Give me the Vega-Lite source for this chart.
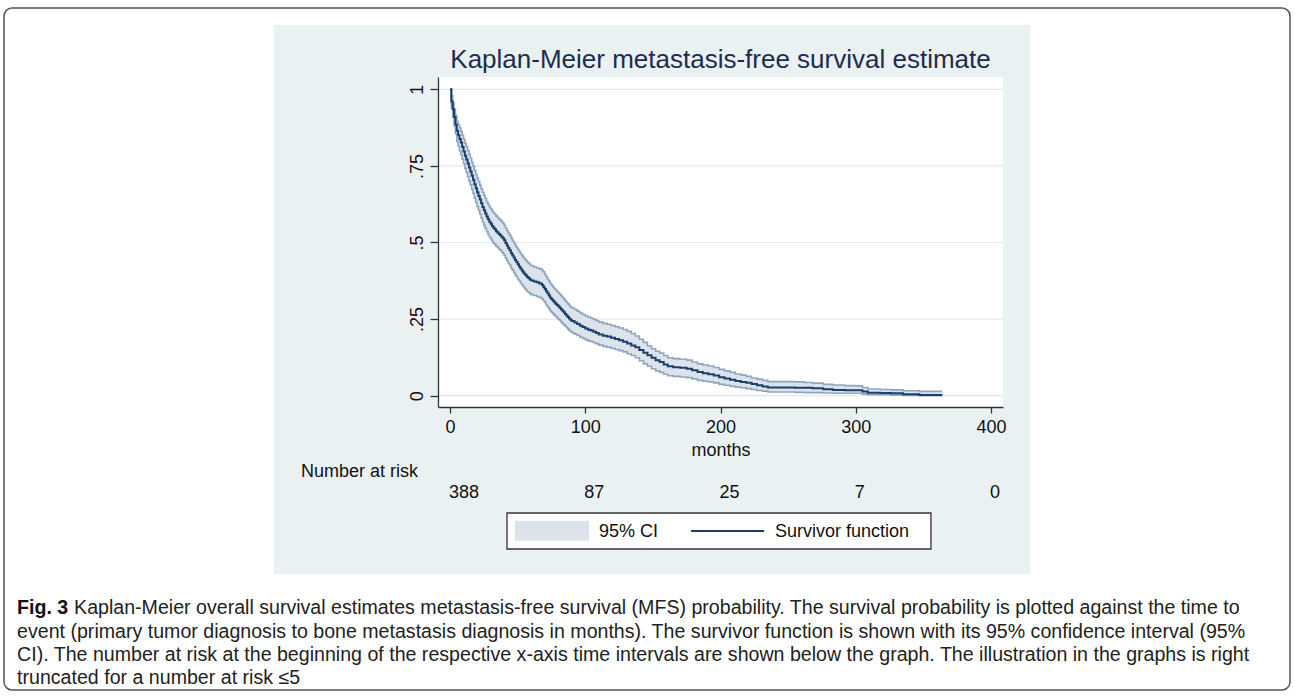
{
  "$schema": "https://vega.github.io/schema/vega-lite/v6.json",
  "width": 565,
  "height": 330,
  "autosize": {"type": "none"},
  "padding": {"left": 438, "top": 77, "right": 292, "bottom": 290},
  "background": "white",
  "config": {"view": {"stroke": null, "fill": "white"}, "text": {"font": "Liberation Sans"}},
  "datasets": {
    "km": [
      {"t":0,"s":1,"lo":1,"hi":1},{"t":1,"s":0.96,"lo":0.94,"hi":0.98},{"t":2,"s":0.935,"lo":0.91,"hi":0.955},{"t":3,"s":0.91,"lo":0.88,"hi":0.935},{"t":4,"s":0.885,"lo":0.855,"hi":0.915},{"t":5,"s":0.865,"lo":0.83,"hi":0.895},{"t":6,"s":0.85,"lo":0.815,"hi":0.885},{"t":7,"s":0.838,"lo":0.8,"hi":0.874},{"t":8,"s":0.826,"lo":0.787,"hi":0.862},{"t":9,"s":0.812,"lo":0.772,"hi":0.85},{"t":10,"s":0.797,"lo":0.757,"hi":0.837},{"t":11,"s":0.783,"lo":0.742,"hi":0.823},{"t":12,"s":0.771,"lo":0.729,"hi":0.812},{"t":13,"s":0.758,"lo":0.715,"hi":0.8},{"t":14,"s":0.745,"lo":0.701,"hi":0.788},{"t":15,"s":0.732,"lo":0.688,"hi":0.776},{"t":16,"s":0.718,"lo":0.673,"hi":0.762},{"t":17,"s":0.705,"lo":0.66,"hi":0.75},{"t":18,"s":0.69,"lo":0.644,"hi":0.735},{"t":19,"s":0.677,"lo":0.631,"hi":0.722},{"t":20,"s":0.664,"lo":0.617,"hi":0.71},{"t":21,"s":0.652,"lo":0.605,"hi":0.699},{"t":22,"s":0.64,"lo":0.592,"hi":0.687},{"t":23,"s":0.628,"lo":0.58,"hi":0.675},{"t":24,"s":0.616,"lo":0.567,"hi":0.664},{"t":25,"s":0.605,"lo":0.556,"hi":0.654},{"t":26,"s":0.595,"lo":0.546,"hi":0.644},{"t":27,"s":0.585,"lo":0.536,"hi":0.634},{"t":28,"s":0.576,"lo":0.527,"hi":0.625},{"t":29,"s":0.568,"lo":0.519,"hi":0.617},{"t":30,"s":0.561,"lo":0.512,"hi":0.61},{"t":31,"s":0.554,"lo":0.505,"hi":0.603},{"t":32,"s":0.548,"lo":0.498,"hi":0.597},{"t":33,"s":0.543,"lo":0.494,"hi":0.592},{"t":34,"s":0.537,"lo":0.488,"hi":0.587},{"t":35,"s":0.533,"lo":0.484,"hi":0.582},{"t":36,"s":0.528,"lo":0.479,"hi":0.577},{"t":37,"s":0.524,"lo":0.475,"hi":0.573},{"t":38,"s":0.519,"lo":0.47,"hi":0.568},{"t":39,"s":0.514,"lo":0.465,"hi":0.563},{"t":40,"s":0.507,"lo":0.458,"hi":0.556},{"t":41,"s":0.498,"lo":0.449,"hi":0.547},{"t":42,"s":0.49,"lo":0.441,"hi":0.539},{"t":43,"s":0.482,"lo":0.433,"hi":0.531},{"t":44,"s":0.475,"lo":0.426,"hi":0.524},{"t":45,"s":0.466,"lo":0.417,"hi":0.515},{"t":46,"s":0.458,"lo":0.41,"hi":0.507},{"t":47,"s":0.451,"lo":0.403,"hi":0.5},{"t":48,"s":0.443,"lo":0.395,"hi":0.492},{"t":49,"s":0.436,"lo":0.388,"hi":0.485},{"t":50,"s":0.429,"lo":0.381,"hi":0.478},{"t":51,"s":0.422,"lo":0.375,"hi":0.471},{"t":52,"s":0.415,"lo":0.368,"hi":0.464},{"t":53,"s":0.409,"lo":0.362,"hi":0.458},{"t":54,"s":0.403,"lo":0.356,"hi":0.452},{"t":55,"s":0.397,"lo":0.35,"hi":0.446},{"t":56,"s":0.392,"lo":0.345,"hi":0.441},{"t":57,"s":0.387,"lo":0.34,"hi":0.436},{"t":58,"s":0.383,"lo":0.337,"hi":0.432},{"t":59,"s":0.379,"lo":0.333,"hi":0.428},{"t":60,"s":0.376,"lo":0.33,"hi":0.424},{"t":62,"s":0.373,"lo":0.327,"hi":0.42},{"t":64,"s":0.37,"lo":0.324,"hi":0.417},{"t":66,"s":0.366,"lo":0.32,"hi":0.414},{"t":68,"s":0.361,"lo":0.316,"hi":0.409},{"t":69,"s":0.355,"lo":0.31,"hi":0.404},{"t":70,"s":0.348,"lo":0.304,"hi":0.396},{"t":71,"s":0.341,"lo":0.297,"hi":0.389},{"t":72,"s":0.334,"lo":0.29,"hi":0.381},{"t":73,"s":0.327,"lo":0.284,"hi":0.374},{"t":74,"s":0.32,"lo":0.277,"hi":0.366},{"t":75,"s":0.315,"lo":0.272,"hi":0.361},{"t":76,"s":0.31,"lo":0.268,"hi":0.355},{"t":77,"s":0.305,"lo":0.263,"hi":0.35},{"t":78,"s":0.3,"lo":0.259,"hi":0.345},{"t":79,"s":0.296,"lo":0.254,"hi":0.34},{"t":80,"s":0.292,"lo":0.25,"hi":0.336},{"t":81,"s":0.287,"lo":0.246,"hi":0.331},{"t":82,"s":0.282,"lo":0.241,"hi":0.326},{"t":83,"s":0.277,"lo":0.236,"hi":0.321},{"t":84,"s":0.272,"lo":0.232,"hi":0.316},{"t":85,"s":0.267,"lo":0.227,"hi":0.31},{"t":86,"s":0.262,"lo":0.223,"hi":0.305},{"t":87,"s":0.257,"lo":0.218,"hi":0.3},{"t":88,"s":0.252,"lo":0.213,"hi":0.295},{"t":89,"s":0.248,"lo":0.21,"hi":0.29},{"t":90,"s":0.244,"lo":0.206,"hi":0.286},{"t":92,"s":0.239,"lo":0.201,"hi":0.281},{"t":94,"s":0.234,"lo":0.197,"hi":0.276},{"t":96,"s":0.228,"lo":0.191,"hi":0.27},{"t":98,"s":0.224,"lo":0.187,"hi":0.265},{"t":100,"s":0.219,"lo":0.183,"hi":0.26},{"t":102,"s":0.215,"lo":0.179,"hi":0.256},{"t":104,"s":0.213,"lo":0.177,"hi":0.253},{"t":106,"s":0.209,"lo":0.173,"hi":0.249},{"t":108,"s":0.205,"lo":0.17,"hi":0.245},{"t":110,"s":0.2,"lo":0.165,"hi":0.24},{"t":113,"s":0.196,"lo":0.161,"hi":0.236},{"t":116,"s":0.193,"lo":0.158,"hi":0.233},{"t":119,"s":0.189,"lo":0.155,"hi":0.229},{"t":122,"s":0.185,"lo":0.151,"hi":0.225},{"t":125,"s":0.181,"lo":0.147,"hi":0.221},{"t":128,"s":0.176,"lo":0.143,"hi":0.216},{"t":131,"s":0.17,"lo":0.137,"hi":0.21},{"t":134,"s":0.164,"lo":0.131,"hi":0.203},{"t":137,"s":0.158,"lo":0.124,"hi":0.195},{"t":140,"s":0.149,"lo":0.114,"hi":0.184},{"t":143,"s":0.14,"lo":0.104,"hi":0.174},{"t":146,"s":0.132,"lo":0.096,"hi":0.163},{"t":149,"s":0.124,"lo":0.088,"hi":0.153},{"t":152,"s":0.116,"lo":0.081,"hi":0.145},{"t":155,"s":0.11,"lo":0.076,"hi":0.139},{"t":158,"s":0.102,"lo":0.07,"hi":0.131},{"t":161,"s":0.096,"lo":0.065,"hi":0.124},{"t":165,"s":0.093,"lo":0.063,"hi":0.121},{"t":170,"s":0.091,"lo":0.061,"hi":0.119},{"t":175,"s":0.088,"lo":0.059,"hi":0.116},{"t":179,"s":0.083,"lo":0.055,"hi":0.11},{"t":183,"s":0.077,"lo":0.05,"hi":0.104},{"t":187,"s":0.073,"lo":0.047,"hi":0.1},{"t":191,"s":0.07,"lo":0.045,"hi":0.097},{"t":195,"s":0.066,"lo":0.042,"hi":0.092},{"t":199,"s":0.06,"lo":0.037,"hi":0.086},{"t":203,"s":0.056,"lo":0.034,"hi":0.081},{"t":207,"s":0.052,"lo":0.031,"hi":0.076},{"t":211,"s":0.048,"lo":0.028,"hi":0.071},{"t":215,"s":0.045,"lo":0.026,"hi":0.067},{"t":219,"s":0.042,"lo":0.023,"hi":0.063},{"t":223,"s":0.038,"lo":0.02,"hi":0.058},{"t":227,"s":0.034,"lo":0.017,"hi":0.054},{"t":231,"s":0.03,"lo":0.015,"hi":0.05},{"t":235,"s":0.027,"lo":0.012,"hi":0.046},{"t":255,"s":0.026,"lo":0.011,"hi":0.045},{"t":262,"s":0.026,"lo":0.01,"hi":0.043},{"t":268,"s":0.024,"lo":0.01,"hi":0.041},{"t":276,"s":0.021,"lo":0.009,"hi":0.037},{"t":283,"s":0.019,"lo":0.008,"hi":0.035},{"t":292,"s":0.018,"lo":0.008,"hi":0.033},{"t":300,"s":0.018,"lo":0.008,"hi":0.032},{"t":305,"s":0.014,"lo":0.005,"hi":0.027},{"t":309,"s":0.01,"lo":0.003,"hi":0.022},{"t":318,"s":0.009,"lo":0.003,"hi":0.02},{"t":326,"s":0.008,"lo":0.002,"hi":0.019},{"t":335,"s":0.005,"lo":0.001,"hi":0.016},{"t":347,"s":0.002,"lo":0,"hi":0.014},{"t":364,"s":0.002,"lo":0,"hi":0.014}
    ],
    "risk": [{"t":0,"n":388},{"t":100,"n":87},{"t":200,"n":25},{"t":300,"n":7},{"t":400,"n":0}],
    "grid": [{"g":0},{"g":0.25},{"g":0.5},{"g":0.75},{"g":1}],
    "one": [{}]
  },
  "layer": [
    {
      "data": {"name": "one"},
      "mark": {"type": "rect", "color": "#eaf1f3"},
      "encoding": {
        "x": {"datum": -130.13, "type": "quantitative", "scale": {"domain": [-8.873, 408.87], "nice": false, "zero": false},
              "axis": {"values": [0,100,200,300,400], "format": "d", "title": "months", "grid": false, "zindex": 1,
                       "domainColor": "#333", "domainWidth": 1.3, "tickColor": "#333", "tickWidth": 1.3, "tickSize": 6,
                       "labelFont": "Liberation Sans", "labelFontSize": 18, "labelColor": "#111", "labelPadding": 5, "labelFlush": false, "labelOverlap": false,
                       "titleFont": "Liberation Sans", "titleFontSize": 18, "titleFontWeight": "normal", "titleColor": "#111", "titlePadding": 5}},
        "x2": {"datum": 428.84},
        "y": {"datum": -0.5819, "type": "quantitative", "scale": {"domain": [-0.03688, 1.04014], "nice": false, "zero": false},
              "axis": {"values": [0,0.25,0.5,0.75,1], "title": null, "grid": false, "zindex": 1,
                       "labelExpr": "datum.value == 0 ? '0' : datum.value == 1 ? '1' : substring(toString(datum.value), 1)",
                       "labelAngle": -90, "labelAlign": "center", "labelBaseline": "bottom",
                       "domainColor": "#333", "domainWidth": 1.3, "tickColor": "#333", "tickWidth": 1.3, "tickSize": 8,
                       "labelFont": "Liberation Sans", "labelFontSize": 18, "labelColor": "#111", "labelPadding": 4}},
        "y2": {"datum": 1.2099}
      }
    },
    {
      "data": {"name": "one"},
      "mark": {"type": "rect", "color": "white"},
      "encoding": {
        "x": {"datum": -8.873, "type": "quantitative"}, "x2": {"datum": 408.87},
        "y": {"datum": -0.03688, "type": "quantitative"}, "y2": {"datum": 1.04014}
      }
    },
    {
      "data": {"name": "grid"},
      "mark": {"type": "rule", "color": "#dfe9ee", "strokeWidth": 1.2},
      "encoding": {
        "y": {"field": "g", "type": "quantitative"},
        "x": {"datum": -8.873, "type": "quantitative"}, "x2": {"datum": 408.87}
      }
    },
    {
      "data": {"name": "km"},
      "mark": {"type": "area", "interpolate": "step-after", "color": "#dde3eb"},
      "encoding": {
        "x": {"field": "t", "type": "quantitative"},
        "y": {"field": "lo", "type": "quantitative"},
        "y2": {"field": "hi"}
      }
    },
    {
      "data": {"name": "km"},
      "mark": {"type": "line", "interpolate": "step-after", "color": "#8ea6bf", "strokeWidth": 1.6},
      "encoding": {
        "x": {"field": "t", "type": "quantitative"},
        "y": {"field": "hi", "type": "quantitative"}
      }
    },
    {
      "data": {"name": "km"},
      "mark": {"type": "line", "interpolate": "step-after", "color": "#8ea6bf", "strokeWidth": 1.6},
      "encoding": {
        "x": {"field": "t", "type": "quantitative"},
        "y": {"field": "lo", "type": "quantitative"}
      }
    },
    {
      "data": {"name": "km"},
      "mark": {"type": "line", "interpolate": "step-after", "color": "#1b3f6c", "strokeWidth": 2},
      "encoding": {
        "x": {"field": "t", "type": "quantitative"},
        "y": {"field": "s", "type": "quantitative"}
      }
    },
    {
      "data": {"name": "risk"},
      "mark": {"type": "text", "align": "left", "baseline": "middle", "fontSize": 18, "color": "#111", "dx": -1},
      "encoding": {
        "x": {"field": "t", "type": "quantitative"},
        "y": {"datum": -0.3176, "type": "quantitative"},
        "text": {"field": "n"}
      }
    },
    {
      "data": {"name": "one"},
      "mark": {"type": "text", "align": "left", "baseline": "middle", "fontSize": 18, "color": "#111", "text": "Number at risk"},
      "encoding": {
        "x": {"datum": -110.2, "type": "quantitative"},
        "y": {"datum": -0.249, "type": "quantitative"}
      }
    },
    {
      "data": {"name": "one"},
      "mark": {"type": "rect", "fill": "white", "stroke": "#333", "strokeWidth": 1.3},
      "encoding": {
        "x": {"datum": 42.14, "type": "quantitative"}, "x2": {"datum": 355.6},
        "y": {"datum": -0.3828, "type": "quantitative"}, "y2": {"datum": -0.5003}
      }
    },
    {
      "data": {"name": "one"},
      "mark": {"type": "rect", "fill": "#dde3eb"},
      "encoding": {
        "x": {"datum": 48.06, "type": "quantitative"}, "x2": {"datum": 102.77},
        "y": {"datum": -0.408, "type": "quantitative"}, "y2": {"datum": -0.4733}
      }
    },
    {
      "data": {"name": "one"},
      "mark": {"type": "rule", "color": "#1b3f6c", "strokeWidth": 2},
      "encoding": {
        "x": {"datum": 178.2, "type": "quantitative"}, "x2": {"datum": 232.2},
        "y": {"datum": -0.4416, "type": "quantitative"}
      }
    },
    {
      "data": {"name": "one"},
      "mark": {"type": "text", "align": "left", "baseline": "middle", "fontSize": 18, "color": "#111", "text": "95% CI"},
      "encoding": {
        "x": {"datum": 110.2, "type": "quantitative"},
        "y": {"datum": -0.4449, "type": "quantitative"}
      }
    },
    {
      "data": {"name": "one"},
      "mark": {"type": "text", "align": "left", "baseline": "middle", "fontSize": 18, "color": "#111", "text": "Survivor function"},
      "encoding": {
        "x": {"datum": 240.3, "type": "quantitative"},
        "y": {"datum": -0.4449, "type": "quantitative"}
      }
    },
    {
      "data": {"name": "one"},
      "mark": {"type": "text", "align": "center", "baseline": "alphabetic", "fontSize": 26, "color": "#1c2d4f", "text": "Kaplan-Meier metastasis-free survival estimate"},
      "encoding": {
        "x": {"datum": 200, "type": "quantitative"},
        "y": {"datum": 1.0695, "type": "quantitative"}
      }
    },
    {
      "data": {"name": "one"},
      "mark": {"type": "rect", "fill": null, "stroke": "#555", "strokeWidth": 1.5, "cornerRadius": 8},
      "encoding": {
        "x": {"datum": -329.76, "type": "quantitative"}, "x2": {"datum": 621.07},
        "y": {"datum": 1.2653, "type": "quantitative"}, "y2": {"datum": -0.9605}
      }
    },
    {
      "data": {"name": "one"},
      "mark": {"type": "text", "align": "left", "baseline": "middle", "fontSize": 19.6, "fontWeight": "bold", "color": "#111", "text": "Fig. 3"},
      "encoding": {
        "x": {"datum": -320.1, "type": "quantitative"},
        "y": {"datum": -0.6929, "type": "quantitative"}
      }
    },
    {
      "data": {"name": "one"},
      "mark": {"type": "text", "align": "left", "baseline": "middle", "fontSize": 19.6, "color": "#222", "dx": 57, "text": "Kaplan-Meier overall survival estimates metastasis-free survival (MFS) probability. The survival probability is plotted against the time to"},
      "encoding": {
        "x": {"datum": -320.1, "type": "quantitative"},
        "y": {"datum": -0.6929, "type": "quantitative"}
      }
    },
    {
      "data": {"name": "one"},
      "mark": {"type": "text", "align": "left", "baseline": "middle", "fontSize": 19.6, "color": "#222", "text": "event (primary tumor diagnosis to bone metastasis diagnosis in months). The survivor function is shown with its 95% confidence interval (95%"},
      "encoding": {
        "x": {"datum": -320.1, "type": "quantitative"},
        "y": {"datum": -0.7712, "type": "quantitative"}
      }
    },
    {
      "data": {"name": "one"},
      "mark": {"type": "text", "align": "left", "baseline": "middle", "fontSize": 19.6, "color": "#222", "text": "CI). The number at risk at the beginning of the respective x-axis time intervals are shown below the graph. The illustration in the graphs is right"},
      "encoding": {
        "x": {"datum": -320.1, "type": "quantitative"},
        "y": {"datum": -0.8463, "type": "quantitative"}
      }
    },
    {
      "data": {"name": "one"},
      "mark": {"type": "text", "align": "left", "baseline": "middle", "fontSize": 19.6, "color": "#222", "text": "truncated for a number at risk ≤5"},
      "encoding": {
        "x": {"datum": -320.1, "type": "quantitative"},
        "y": {"datum": -0.9213, "type": "quantitative"}
      }
    }
  ]
}
